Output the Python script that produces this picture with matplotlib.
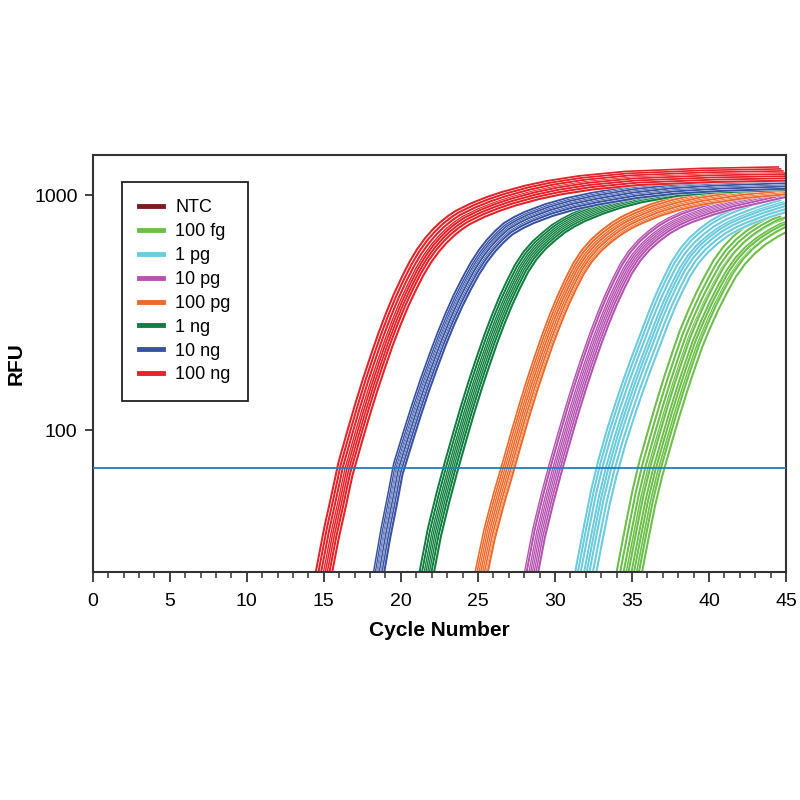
import matplotlib
matplotlib.use('Agg')
import matplotlib.pyplot as plt
import matplotlib.patheffects as pe
from matplotlib.lines import Line2D
from matplotlib.ticker import MultipleLocator, FixedLocator, NullLocator, FixedFormatter

plt.rcParams['font.family'] = ['Liberation Sans', 'DejaVu Sans']

# legend labels and colours
labels = ['NTC', '100 fg', '1 pg', '10 pg', '100 pg', '1 ng', '10 ng', '100 ng']
colors = ['#7a1c24', '#6cc04a', '#6ccbdd', '#b553b0', '#ee6a2b', '#107f3f', '#3953a4', '#e52329']

# mean amplification curve of each dilution (cycle, RFU)
ntc_cyc = [1, 45]
ntc_rfu = [8, 8]

ng100_cyc = [14.5, 15.0, 15.5, 16.0, 16.4, 17.0, 17.5, 18.0, 18.5, 19.0, 19.5, 20.0, 20.5, 21.0,
             21.5, 22.0, 22.5, 23.0, 23.5, 24.0, 25.0, 26.0, 27.0, 28.5, 30, 32, 35, 40, 45]
ng100_rfu = [16.6, 25, 37, 52, 69, 95, 123, 157, 197, 245, 299, 359, 422, 490,
             556, 617, 673, 724, 769, 809, 871, 925, 973, 1035, 1086, 1138, 1189, 1225, 1242]

ng10_cyc = [18.1, 18.55, 19.0, 19.45, 19.8, 20.45, 20.99, 21.53, 22.07, 22.61, 23.15, 23.69, 24.23,
            24.77, 25.31, 25.85, 26.39, 26.93, 27.6, 28.3, 29.6, 31.0, 32.6, 35.0, 37.5, 40.5, 45]
ng10_rfu = [16.6, 25, 37, 52, 69, 95, 123, 157, 197, 245, 299, 359, 422,
            490, 556, 617, 673, 724, 769, 809, 871, 925, 973, 1035, 1080, 1110, 1135]

ng1_cyc = [21.15, 21.65, 22.15, 22.7, 23.2, 23.8, 24.3, 24.8, 25.3, 25.8, 26.3, 26.8, 27.3,
           27.8, 28.35, 28.95, 29.6, 30.2, 30.85, 31.5, 32.7, 33.9, 35.2, 37.5, 40, 45]
ng1_rfu = [16.6, 25, 37, 52, 69, 95, 123, 157, 197, 245, 299, 359, 422,
           490, 556, 617, 673, 724, 769, 809, 871, 925, 973, 1035, 1070, 1100]

pg100_cyc = [24.7, 25.2, 25.75, 26.35, 26.9, 27.5, 28.0, 28.5, 29.0, 29.5, 30.0, 30.5, 31.0,
             31.5, 32.05, 32.65, 33.3, 33.95, 34.6, 35.3, 36.5, 37.8, 39.3, 42, 45]
pg100_rfu = [16.6, 25, 37, 52, 69, 95, 123, 157, 197, 245, 299, 359, 422,
             490, 556, 617, 673, 724, 769, 809, 871, 925, 973, 1035, 1080]

pg10_cyc = [27.95, 28.45, 28.95, 29.5, 30.0, 30.6, 31.1, 31.6, 32.1, 32.6, 33.1, 33.6, 34.1,
            34.6, 35.15, 35.75, 36.4, 37.05, 37.75, 38.5, 39.9, 41.3, 42.8, 45]
pg10_rfu = [16.6, 25, 37, 52, 69, 95, 123, 157, 197, 245, 299, 359, 422,
            490, 556, 617, 673, 724, 769, 809, 871, 925, 973, 1050]

pg1_cyc = [31.5, 32.0, 32.5, 32.95, 33.4, 34.0, 34.55, 35.1, 35.65, 36.2, 36.7, 37.2, 37.7,
           38.2, 38.75, 39.35, 40.0, 40.65, 41.35, 42.1, 43.4, 44.7, 45]
pg1_rfu = [16.6, 25, 37, 52, 69, 95, 123, 157, 197, 245, 299, 359, 422,
           490, 556, 617, 673, 724, 769, 809, 871, 925, 935]

fg100_cyc = [34.3, 34.8, 35.3, 35.75, 36.2, 36.8, 37.3, 37.8, 38.3, 38.8, 39.35, 39.9, 40.45,
             41.0, 41.6, 42.25, 42.95, 43.7, 44.45, 45]
fg100_rfu = [16.6, 25, 37, 52, 69, 95, 123, 157, 197, 245, 299, 359, 422,
             490, 556, 617, 673, 724, 769, 790]

# replicate spread: cycle offset and plateau factor of each well
fg100_shift = [-0.7, -0.5, -0.3, -0.15, 0.0, 0.15, 0.3, 0.45, 0.6, 0.75]
fg100_scale = [1.08, 1.05, 1.03, 1.0, 1.02, 0.98, 0.97, 0.95, 0.96, 0.92]
pg1_shift = [-0.6, -0.45, -0.3, -0.1, 0.05, 0.2, 0.4, 0.6]
pg1_scale = [1.07, 1.05, 1.02, 1.0, 0.99, 0.97, 0.95, 0.93]
pg10_shift = [-0.35, -0.25, -0.1, 0.0, 0.1, 0.2, 0.3, 0.4]
pg10_scale = [1.04, 1.03, 1.01, 1.0, 0.99, 0.98, 0.97, 0.95]
pg100_shift = [-0.3, -0.2, -0.1, 0.0, 0.1, 0.2, 0.3, 0.35]
pg100_scale = [1.05, 1.03, 1.01, 1.0, 0.98, 0.97, 0.95, 0.94]
ng1_shift = [-0.4, -0.25, -0.1, 0.0, 0.1, 0.2, 0.3, 0.45]
ng1_scale = [1.03, 1.02, 1.01, 1.0, 0.99, 0.98, 0.97, 0.96]
ng10_shift = [-0.25, -0.15, -0.05, 0.0, 0.05, 0.15, 0.2, 0.3]
ng10_scale = [1.05, 1.03, 1.02, 1.0, 0.99, 0.97, 0.96, 0.94]
ng100_shift = [-0.45, -0.3, -0.15, 0.0, 0.1, 0.2, 0.3, 0.45]
ng100_scale = [1.06, 1.04, 1.02, 1.0, 0.99, 0.97, 0.95, 0.93]

threshold = 69

groups = [
    (ntc_cyc, ntc_rfu, [0.0], [1.0], colors[0]),
    (fg100_cyc, fg100_rfu, fg100_shift, fg100_scale, colors[1]),
    (pg1_cyc, pg1_rfu, pg1_shift, pg1_scale, colors[2]),
    (pg10_cyc, pg10_rfu, pg10_shift, pg10_scale, colors[3]),
    (pg100_cyc, pg100_rfu, pg100_shift, pg100_scale, colors[4]),
    (ng1_cyc, ng1_rfu, ng1_shift, ng1_scale, colors[5]),
    (ng10_cyc, ng10_rfu, ng10_shift, ng10_scale, colors[6]),
    (ng100_cyc, ng100_rfu, ng100_shift, ng100_scale, colors[7]),
]

fig = plt.figure(figsize=(8, 8), dpi=100)
ax = fig.add_axes([0.116, 0.285, 0.8665, 0.521])

edge = [pe.Stroke(linewidth=2.0, foreground='white'), pe.Normal()]
for cyc, rfu, shifts, scales, col in groups:
    for s, k in zip(shifts, scales):
        ax.plot([c + s for c in cyc], [r * k for r in rfu], color=col, lw=1.5,
                path_effects=edge, solid_capstyle='butt', solid_joinstyle='round')

ax.axhline(threshold, color='#1f7fc0', lw=1.3, zorder=5)

ax.set_yscale('log')
ax.set_xlim(0, 45)
ax.set_ylim(25, 1480)

ax.xaxis.set_major_locator(MultipleLocator(5))
ax.xaxis.set_minor_locator(MultipleLocator(1))
ax.yaxis.set_major_locator(FixedLocator([100, 1000]))
ax.yaxis.set_major_formatter(FixedFormatter(['100', '1000']))
ax.yaxis.set_minor_locator(NullLocator())

ax.tick_params(axis='both', which='major', direction='out', length=7, width=1.3,
               color='#333333', labelsize=14, pad=8)
ax.tick_params(axis='x', which='minor', direction='out', length=4, width=1.1, color='#333333')
ax.tick_params(axis='y', which='major', length=6, pad=5)

for sp in ax.spines.values():
    sp.set_linewidth(1.5)
    sp.set_color('#333333')

ax.set_xlabel('Cycle Number', fontsize=15, fontweight='bold', labelpad=8)
ax.set_ylabel('RFU', fontsize=15, fontweight='bold', labelpad=6)

handles = [Line2D([], [], color=c, lw=3.5) for c in colors]
leg = ax.legend(handles, labels, loc='upper left', bbox_to_anchor=(0.042, 0.935),
                borderaxespad=0, fontsize=13, frameon=True, fancybox=False,
                edgecolor='#222222', framealpha=1, handlelength=1.3,
                handletextpad=0.7, labelspacing=0.38, borderpad=0.95)
leg.get_frame().set_linewidth(1.3)

fig.savefig('out.png', dpi=100)
